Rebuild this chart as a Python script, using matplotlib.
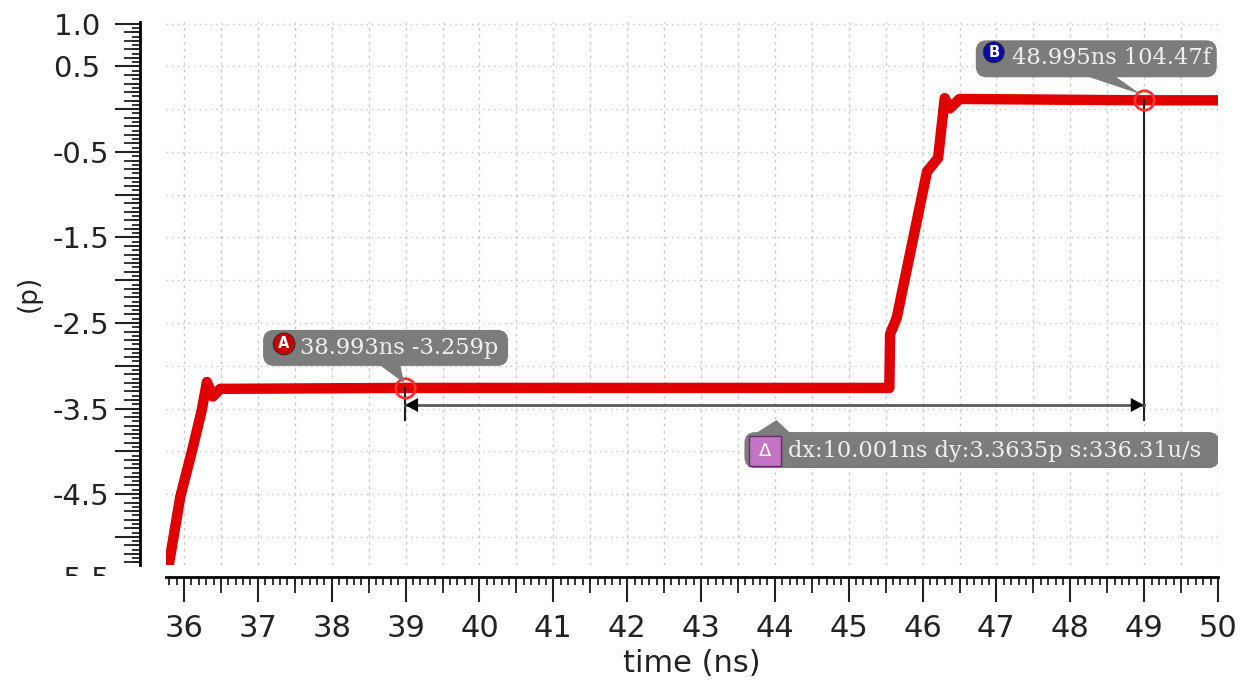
import numpy as np
import matplotlib
matplotlib.use("Agg")
import matplotlib.pyplot as plt
from matplotlib.ticker import MultipleLocator, FuncFormatter, NullFormatter
from matplotlib.patches import Circle, Rectangle, Polygon, FancyBboxPatch
from matplotlib.transforms import Bbox, TransformedBbox, Affine2D, ScaledTranslation

plt.rcParams['axes.unicode_minus'] = False
plt.rcParams['font.family'] = 'DejaVu Sans'

# waveform: time (ns) vs value (p)
time_ns = [35.80, 35.95, 36.11, 36.24, 36.31, 36.39, 36.49, 38.993, 45.55,
           45.56, 45.65, 45.83, 46.06, 46.21, 46.30, 46.37, 46.50, 48.995, 50.0]
value_p = [-5.30, -4.53, -3.99, -3.52, -3.19, -3.36, -3.27, -3.259, -3.259,
           -2.63, -2.44, -1.69, -0.73, -0.57, 0.13, 0.01, 0.12, 0.10447, 0.104]

marker_a = (38.993, -3.259)
marker_b = (48.995, 0.10447)
label_a = '38.993ns -3.259p'
label_b = '48.995ns 104.47f'
label_delta = 'dx:10.001ns dy:3.3635p s:336.31u/s'
delta_y = -3.459
drop_y = -3.635

RED = '#e00000'
BOX = '#7c7c7c'
TXT = '#f0f0f0'
INK = '#222222'

fig = plt.figure(figsize=(12.53, 6.8), dpi=100)
ax = fig.add_axes([166 / 1253, 1 - 565 / 680, 1052 / 1253, 543 / 680])
ax.set_xlim(35.756, 50.0)
ax.set_ylim(-5.33, 1.02)

for s in ['top', 'right']:
    ax.spines[s].set_visible(False)
ax.spines['left'].set_position(('outward', 18.7))
ax.spines['bottom'].set_position(('outward', 8.6))
ax.spines['left'].set_linewidth(2)
ax.spines['bottom'].set_linewidth(2)

# ticks
ax.xaxis.set_major_locator(MultipleLocator(1))
ax.xaxis.set_minor_locator(MultipleLocator(0.1))
ax.yaxis.set_major_locator(MultipleLocator(0.5))
ax.yaxis.set_minor_locator(MultipleLocator(0.05))


def ylab(v, pos):
    if abs(v - round(v)) < 1e-6 and abs(v - 1.0) > 1e-6:
        return ''
    if v > 0:
        return '%.1f\u2004' % v
    return '%.1f' % v


ax.yaxis.set_major_formatter(FuncFormatter(ylab))
ax.tick_params(axis='x', which='major', length=18, width=1.5, labelsize=22, pad=9, colors=INK)
ax.tick_params(axis='x', which='minor', length=5.8, width=1.3, color=INK)
ax.tick_params(axis='y', which='major', length=18, width=1.5, labelsize=21, pad=4, colors=INK)
ax.tick_params(axis='y', which='minor', length=5.8, width=1.3, color=INK)

sx = ax.secondary_xaxis(-12 / 543)
sx.xaxis.set_major_locator(MultipleLocator(0.5))
sx.xaxis.set_major_formatter(NullFormatter())
sx.tick_params(length=11.5, width=1.3, color=INK)
sx.spines['bottom'].set_visible(False)

sy = ax.secondary_yaxis(-26 / 1052)
sy.yaxis.set_major_locator(MultipleLocator(0.1))
sy.yaxis.set_major_formatter(NullFormatter())
sy.tick_params(length=11.5, width=1.3, color=INK)
sy.spines['left'].set_visible(False)

# bottom label, cut off by the x axis
t55 = ax.text(-0.0532, -5.5, '-5.5', transform=ax.get_yaxis_transform(),
              ha='right', va='center', fontsize=21, color=INK)
t55.set_clip_path(None)
t55.set_clip_on(True)
t55.set_clip_box(TransformedBbox(Bbox([[0, 104 / 680], [1, 1]]), fig.transFigure))

# grid
for gx in np.arange(36, 50.01, 0.5):
    ax.axvline(gx, color='#c8c8c8', lw=1, ls=(0, (2, 3)), zorder=0)
for gy in np.arange(-5.0, 1.01, 0.5):
    ax.axhline(gy, color='#c8c8c8', lw=1, ls=(0, (1, 3)), zorder=0)

ax.set_xlabel('time (ns)', fontsize=22, color=INK)
ax.xaxis.set_label_coords(0.5, -0.155)
ax.set_ylabel('(p)', fontsize=19, color=INK)
ax.yaxis.set_label_coords(-0.118, 0.5)

# waveform
ax.plot(time_ns, value_p, color=RED, lw=7.5, solid_joinstyle='round', zorder=2)


def px(xy):
    # transform for pixel offsets (x right, y up) around a data point
    return Affine2D().scale(fig.dpi / 100.0) + ScaledTranslation(xy[0], xy[1], ax.transData)


# marker drop lines and delta arrow
ax.plot([marker_a[0], marker_a[0]], [marker_a[1], drop_y], color='#202020', lw=1.5, zorder=3)
ax.plot([marker_b[0], marker_b[0]], [marker_b[1], drop_y], color='#202020', lw=1.5, zorder=3)
ax.plot([marker_a[0], marker_b[0]], [delta_y, delta_y], color='#5a5a5a', lw=2, zorder=3)
ax.add_patch(Polygon([(0, 0), (13, 7), (13, -7)], closed=True, fc='black', ec='none',
                     transform=px((marker_a[0], delta_y)), zorder=4))
ax.add_patch(Polygon([(0, 0), (-13, 7), (-13, -7)], closed=True, fc='black', ec='none',
                     transform=px((marker_b[0], delta_y)), zorder=4))

for m in (marker_a, marker_b):
    ax.plot(m[0], m[1], 'o', mfc='none', mec='#ff3030', ms=14, mew=2, zorder=4)


def callout(anchor, box, tail, text_xy, text, icon):
    tr = px(anchor)
    x0, y0, w, h = box
    ax.add_patch(Polygon(tail, closed=True, fc=BOX, ec='none', transform=tr, zorder=5))
    ax.add_patch(FancyBboxPatch((x0, y0), w, h, boxstyle='round,pad=0,rounding_size=11',
                                fc=BOX, ec='none', transform=tr, zorder=5))
    ax.text(text_xy[0], text_xy[1], text, transform=tr, ha='left', va='center',
            fontsize=16.2, family='DejaVu Serif', color=TXT, zorder=6)
    kind, cx, cy, size, color, letter = icon
    if kind == 'circle':
        ax.add_patch(Circle((cx, cy), size, fc=color, ec='#2a2a2a', lw=0.6,
                            transform=tr, zorder=6))
        ax.text(cx, cy, letter, transform=tr, ha='center', va='center', fontsize=10.5,
                fontweight='bold', color='white', zorder=7)
    else:
        ax.add_patch(Rectangle((cx - size / 2, cy - size / 2), size, size * 0.94, fc=color,
                               ec='#6a2a6a', lw=1, transform=tr, zorder=6))
        ax.text(cx, cy - 1, letter, transform=tr, ha='center', va='center', fontsize=13,
                color='white', zorder=7)


callout(marker_a, (-142, 22, 245, 36), [(-27, 24), (-5, 24), (-1, 5)],
        (-105, 40), label_a, ('circle', -121, 44, 11, '#c40000', 'A'))
callout(marker_b, (-168, 23, 241, 37), [(-60, 25), (-30, 25), (-3, 6)],
        (-132, 42), label_b, ('circle', -150, 48, 10.5, '#0a0aa8', 'B'))
callout(((marker_a[0] + marker_b[0]) / 2, drop_y), (-30, -48, 475, 36),
        [(-20, -14), (17, -14), (2, 0)], (14, -31), label_delta,
        ('square', -9, -30, 32, '#c474c4', '\u0394'))

fig.savefig('out.png', dpi=100)
